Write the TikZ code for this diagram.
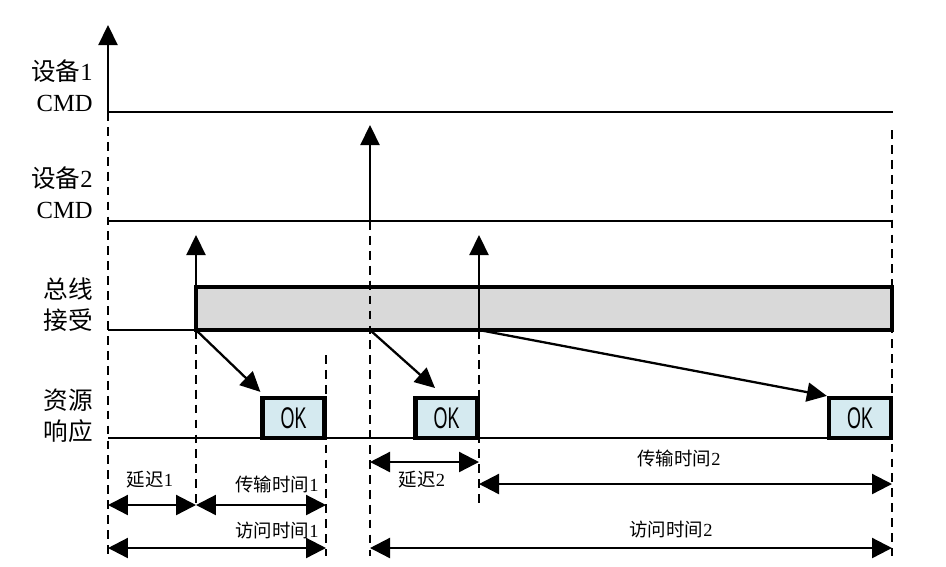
\documentclass[tikz,border=0pt]{standalone}
\usepackage{fontspec}
\usepackage{graphicx}
\setmainfont{Liberation Serif}
\setsansfont{Liberation Sans}
\newfontfamily\cjk{Noto Sans CJK SC}
\usetikzlibrary{arrows.meta}
\definecolor{busgray}{RGB}{217,217,217}
\definecolor{okblue}{RGB}{213,234,240}

\tikzset{
  sig/.style={line width=1.3pt},
  guide/.style={line width=1.3pt, dash pattern=on 5pt off 3.5pt},
  up/.style={sig, -{Triangle[length=0.4cm,width=0.38cm]}},
  dim/.style={sig, {Triangle[length=0.4cm,width=0.4cm]}-{Triangle[length=0.4cm,width=0.4cm]}},
  lab/.style={anchor=east, inner sep=0pt, align=right, font=\fontsize{14}{17.5}\selectfont},
  note/.style={inner sep=0pt, font=\fontsize{10.5}{12}\selectfont},
  okbox/.style={draw, line width=2.4pt, fill=okblue, minimum width=1.24cm, minimum height=0.8cm, inner sep=0pt, font=\sffamily\fontsize{17}{18}\selectfont},
}

\begin{document}
\begin{tikzpicture}[x=0.02cm,y=-0.02cm]
\useasboundingbox (0,0) rectangle (946,566);
%
\node[lab] (L1) at (93,86) {{\cjk 设备}1\\CMD};
\node[lab] (L2) at (93,193) {{\cjk 设备}2\\CMD};
\node[lab] (L3) at (93,305) {\cjk 总线\\\cjk 接受};
\node[lab] (L4) at (93,416) {\cjk 资源\\\cjk 响应};
%
\coordinate (a0) at (108,25);
\coordinate (c1l) at (108,112);
\coordinate (c1r) at (893,112);
\coordinate (c2l) at (108,221);
\coordinate (c2r) at (893,221);
\coordinate (d2) at (370,221);
\coordinate (d2t) at (370,125);
\coordinate (bl) at (108,330);
\coordinate (b1) at (196,330);
\coordinate (b1t) at (196,235);
\coordinate (b2) at (370,330);
\coordinate (b3) at (479,330);
\coordinate (b3t) at (479,235);
\coordinate (bbox) at (892,287);
\coordinate (rl) at (108,438);
\coordinate (rr) at (892,438);
%
\draw[guide] (c1l) -- (108,556) coordinate (g0);
\draw[guide] (b1) -- (196,508) coordinate (g1);
\draw[guide] (326,355) -- (326,556) coordinate (g2);
\draw[guide] (d2) -- (370,556) coordinate (g3);
\draw[guide] (b3) -- (479,506) coordinate (g4);
\draw[guide] (892,130) -- (892,556) coordinate (g5);
%
\draw[up] (c1l) -- (a0);
\draw[sig] (c1l) -- (c1r);
\draw[sig] (c2l) -- (c2r);
\draw[up] (d2) -- (d2t);
\draw[up] (b1) -- (b1t);
\draw[sig] (bl) -- (b1);
\draw[line width=2.4pt, fill=busgray] (b1) rectangle (bbox);
\draw[guide] (d2) -- (b2);
\draw[up] (b3) -- (b3t);
\draw[sig] (rl) -- (rr);
%
\node[okbox] (ok1) at (293.5,418) {\scalebox{0.6}[1]{OK}};
\node[okbox] (ok2) at (446.5,418) {\scalebox{0.6}[1]{OK}};
\node[okbox] (ok3) at (860,418) {\scalebox{0.6}[1]{OK}};
\coordinate (k2) at (435,388);
\draw[up] (b1) -- ([shift={(0,-4)}]ok1.north west);
\draw[up] (b2) -- (k2);
\draw[up] (b3) -- (ok3.north west);
%
\coordinate (r1) at (0,505);
\coordinate (r2) at (0,548);
\coordinate (r3) at (0,462);
\coordinate (r4) at (0,484);
\draw[dim] (g0 |- r1) -- (g1 |- r1);
\draw[dim] (g1 |- r1) -- (g2 |- r1);
\draw[dim] (g0 |- r2) -- (g2 |- r2);
\draw[dim] (g3 |- r3) -- (g4 |- r3);
\draw[dim] (g4 |- r4) -- (g5 |- r4);
\draw[dim] (g3 |- r2) -- (g5 |- r2);
%
\node[note] (n1) at (150,480) {{\cjk 延迟}1};
\node[note] (n2) at (277,484) {{\cjk 传输时间}1};
\node[note] (n3) at (277,531) {{\cjk 访问时间}1};
\node[note] (n4) at (422,480) {{\cjk 延迟}2};
\node[note] (n5) at (679,458) {{\cjk 传输时间}2};
\node[note] (n6) at (671,530) {{\cjk 访问时间}2};
\end{tikzpicture}
\end{document}
